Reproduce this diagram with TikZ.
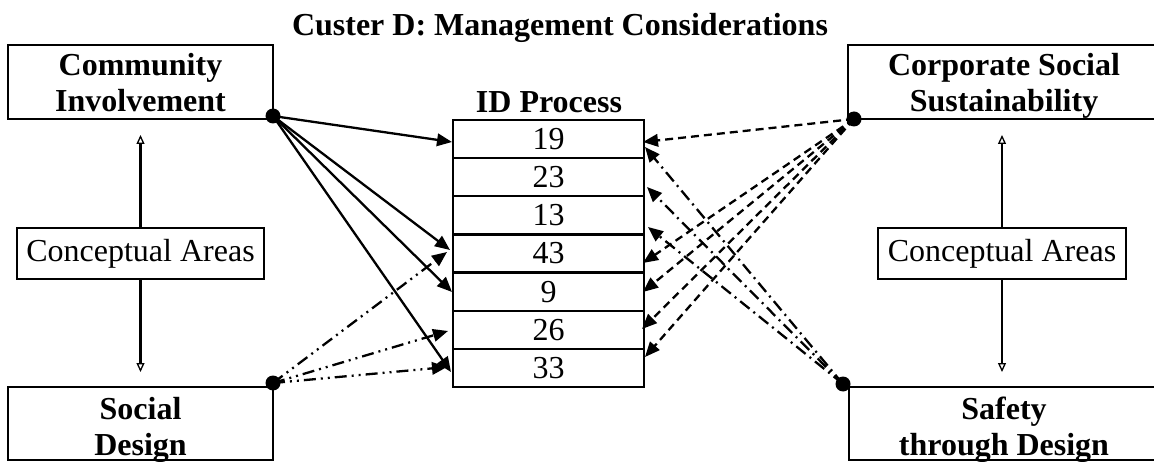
\documentclass[tikz,border=0pt]{standalone}
\usepackage{fontspec}
\setmainfont{Liberation Serif}
\usetikzlibrary{arrows.meta}

\tikzset{
  frame/.style={draw, line width=2.3pt, inner sep=0pt},
  thinframe/.style={draw, line width=1.8pt, inner sep=0pt, fill=white},
  headtext/.style={font=\bfseries\fontsize{32}{36}\selectfont, align=center, inner sep=0pt},
  plaintext/.style={font=\fontsize{32}{36}\selectfont},
  cell/.style={draw, line width=2.3pt, minimum width=191pt, minimum height=38.14pt,
               inner sep=0pt, font=\fontsize{32}{36}\selectfont},
  hub/.style={circle, fill, inner sep=0pt, minimum size=15pt},
  link/.style={line width=2.3pt, -{Triangle[length=15pt,width=12.5pt]}},
  solidlink/.style={link},
  dashlink/.style={link, dash pattern=on 8pt off 5pt},
  dashdotlink/.style={link, dash pattern=on 12pt off 5pt on 2pt off 5pt},
  dashdotdotlink/.style={link, dash pattern=on 12pt off 5pt on 2pt off 5pt on 2pt off 5pt},
  span/.style={line width=2.3pt, -{Triangle[open, length=9pt, width=8pt, line width=1.3pt]}}
}

\begin{document}
\begin{tikzpicture}[x=1pt, y=-1pt]
\useasboundingbox (0,0) rectangle (1154,462);
\clip (0,0) rectangle (1154,462);

% heading
\node[headtext, anchor=base] (title) at (560,36) {Custer D: Management Considerations};

% four area boxes
\node[frame, minimum width=265pt, minimum height=74pt] (ciF)  at (140.5,82) {};
\node[frame, minimum width=312pt, minimum height=74pt] (cssF) at (1004,82) {};
\node[frame, minimum width=265pt, minimum height=73pt] (sdF)  at (140.5,423.5) {};
\node[frame, minimum width=311pt, minimum height=73pt] (stdF) at (1004.5,423.5) {};

\node[headtext, anchor=north] (ci)  at (140.5,53)  {Community\\Involvement};
\node[headtext, anchor=north] (css) at (1004,53)   {Corporate Social\\Sustainability};
\node[headtext, anchor=north] (sd)  at (140.5,397) {Social\\Design};
\node[headtext, anchor=north] (std) at (1004,397)  {Safety\\through Design};

% ID process stack
\node[headtext, anchor=base] (idp) at (549,113) {ID Process};
\node[cell] (r1) at (548.5,139.07) {19};
\node[cell] (r2) at (548.5,177.21) {23};
\node[cell] (r3) at (548.5,215.35) {13};
\node[cell] (r4) at (548.5,253.49) {43};
\node[cell] (r5) at (548.5,291.63) {9};
\node[cell] (r6) at (548.5,329.77) {26};
\node[cell] (r7) at (548.5,367.91) {33};

% conceptual areas with their vertical spans
\node[thinframe, plaintext, minimum width=247pt, minimum height=51pt] (caL) at (140.5,253.5) {Conceptual Areas};
\node[thinframe, plaintext, minimum width=248pt, minimum height=51pt] (caR) at (1002,253.5) {Conceptual Areas};
\coordinate (upL) at (140.5,135);
\coordinate (dnL) at (140.5,372);
\coordinate (upR) at (1002,135);
\coordinate (dnR) at (1002,372);
\draw[span] (caL.north) -- (upL);
\draw[span] (caL.south) -- (dnL);
\draw[span] (caR.north) -- (upR);
\draw[span] (caR.south) -- (dnR);

% hubs
\coordinate (ciP)  at (273,116);
\coordinate (sdP)  at (273,383);
\coordinate (cssP) at (854,119);
\coordinate (stdP) at (843,384);

% arrow targets on the stack
\coordinate (a19) at (452,142);
\coordinate (a43) at (450,250);
\coordinate (a9)  at (452,292);
\coordinate (a33) at (451,372);
\coordinate (b43) at (447,252);
\coordinate (b26) at (448,331);
\coordinate (b33) at (447,367);
\coordinate (c19) at (643,142);
\coordinate (c43) at (643,263);
\coordinate (c9)  at (643,292);
\coordinate (c26) at (642,329);
\coordinate (c33) at (645,357);
\coordinate (d19) at (645,147);
\coordinate (d23) at (647,187);
\coordinate (d13) at (648,227);

% Community Involvement
\foreach \t in {a19,a43,a9,a33} \draw[solidlink] (ciP) -- (\t);
% Social Design
\foreach \t in {b43,b26,b33} \draw[dashdotdotlink] (sdP) -- (\t);
% Corporate Social Sustainability
\foreach \t in {c19,c43,c9,c26,c33} \draw[dashlink] (cssP) -- (\t);
% Safety through Design
\foreach \t in {d19,d23,d13} \draw[dashdotlink] (stdP) -- (\t);

\node[hub] (ciD)  at (ciP)  {};
\node[hub] (sdD)  at (sdP)  {};
\node[hub] (cssD) at (cssP) {};
\node[hub] (stdD) at (stdP) {};
\end{tikzpicture}
\end{document}
